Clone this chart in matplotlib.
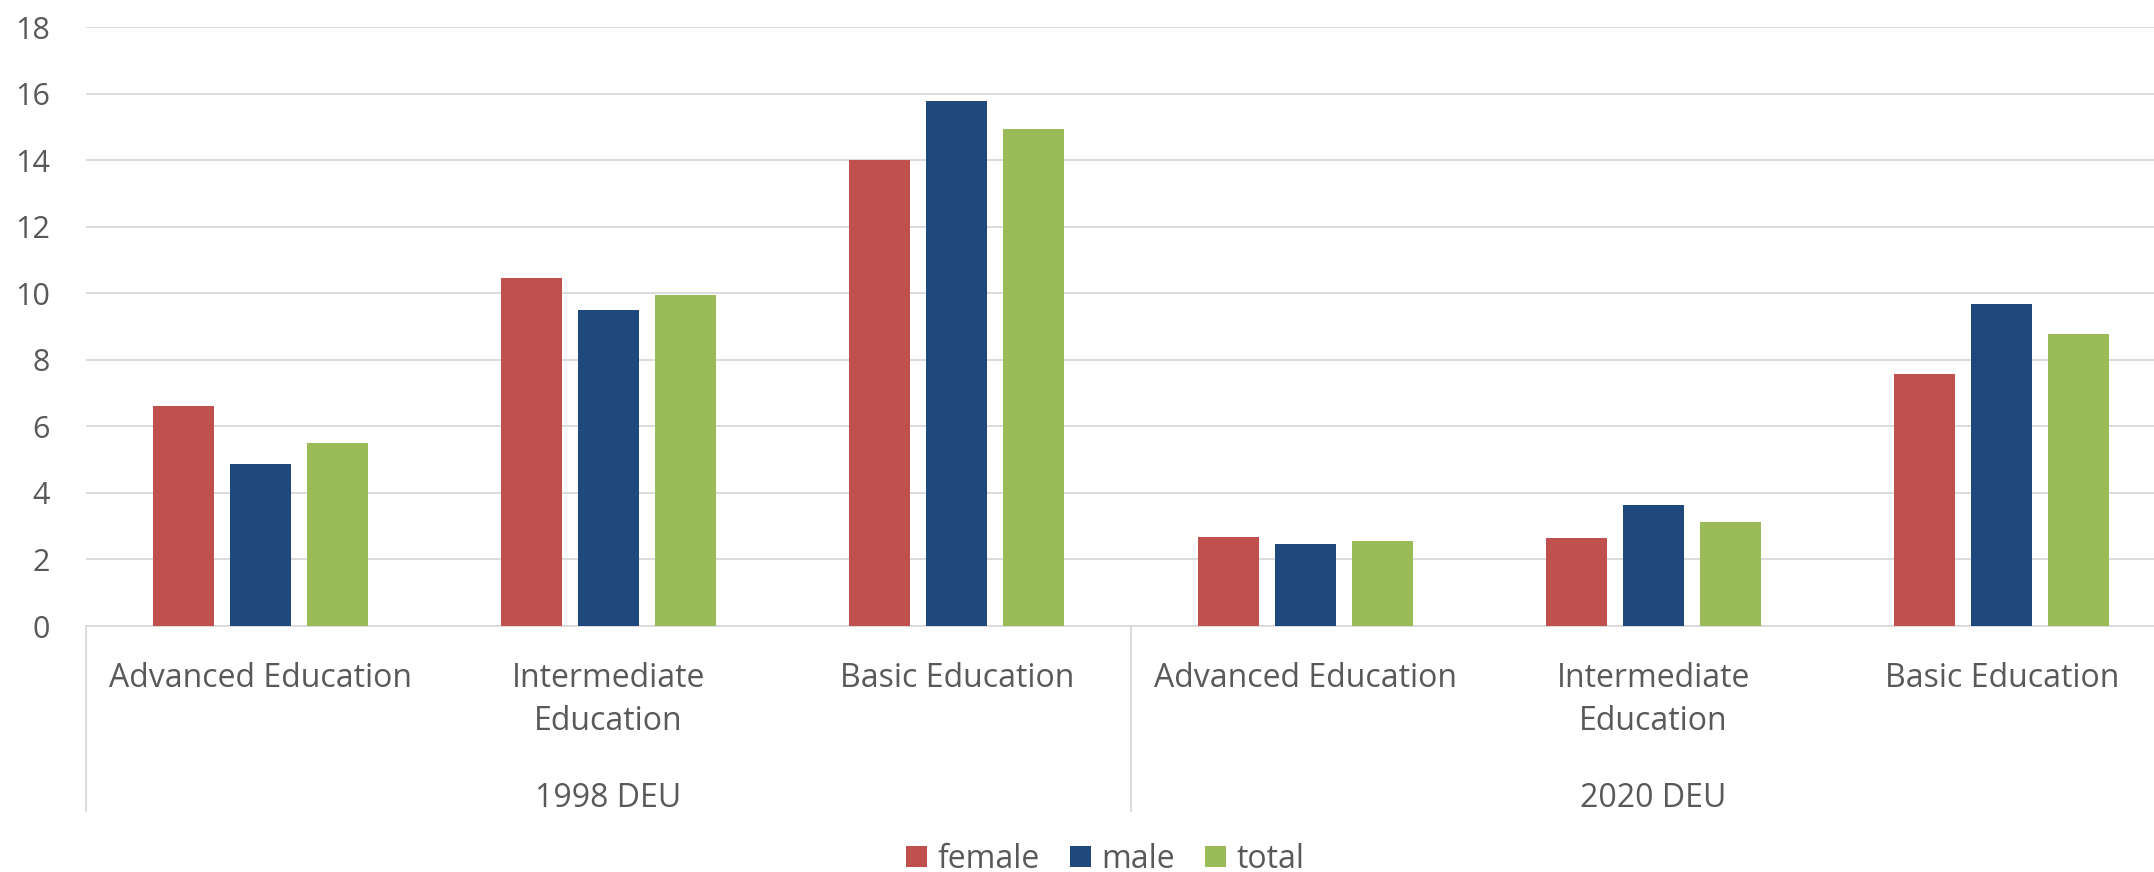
import matplotlib
matplotlib.use("Agg")
import matplotlib.pyplot as plt
import matplotlib.transforms as mtransforms
from matplotlib.patches import Patch
import numpy as np

# ---- data -------------------------------------------------------------
categories = ["Advanced Education", "Intermediate\nEducation", "Basic Education",
              "Advanced Education", "Intermediate\nEducation", "Basic Education"]
groups = ["1998 DEU", "2020 DEU"]
series_names = ["female", "male", "total"]
female = [6.62, 10.47, 14.01, 2.68, 2.65, 7.57]
male = [4.87, 9.49, 15.79, 2.46, 3.64, 9.68]
total = [5.49, 9.95, 14.94, 2.56, 3.12, 8.78]
yticks = [0, 2, 4, 6, 8, 10, 12, 14, 16, 18]

# ---- style ------------------------------------------------------------
colors = ["#C0504D", "#1F497D", "#9BBB59"]
text_color = "#595959"
grid_color = "#D9D9D9"
plt.rcParams["font.family"] = ["Open Sans", "DejaVu Sans"]

W, H, DPI = 2154, 872, 100
fig = plt.figure(figsize=(W / DPI, H / DPI), dpi=DPI)
fig.patch.set_facecolor("white")

# plot area in pixel terms (right edge runs past the canvas)
left_px, right_px, top_px, bottom_px = 86, 2176, 27.3, 626
ax = fig.add_axes([left_px / W, 1 - bottom_px / H,
                   (right_px - left_px) / W, (bottom_px - top_px) / H])

x = np.arange(len(categories))
bar_w = 0.175
step = 0.221
for i, (vals, c) in enumerate(zip([female, male, total], colors)):
    ax.bar(x + (i - 1) * step, vals, width=bar_w, color=c, zorder=3,
           label=series_names[i])

ax.set_xlim(-0.5, len(categories) - 0.5)
ax.set_ylim(0, 18)
ax.set_yticks(yticks)
ax.set_yticklabels([str(t) for t in yticks])
ax.tick_params(axis="y", length=0, pad=26, labelsize=22, labelcolor=text_color)
ax.tick_params(axis="x", length=0, labelbottom=False)
ax.grid(axis="y", color=grid_color, linewidth=1.3, zorder=0)
ax.set_axisbelow(True)
for s in ["left", "right", "top"]:
    ax.spines[s].set_visible(False)
ax.spines["bottom"].set_color(grid_color)
ax.spines["bottom"].set_linewidth(1.3)

# ---- multi-level category axis ----------------------------------------
def fig_y(px):
    return 1 - px / H

trans = mtransforms.blended_transform_factory(ax.transData, fig.transFigure)
line1_base, line2_base, group_base = 686.5, 730, 806.5
for xi, lab in zip(x, categories):
    for k, part in enumerate(lab.split("\n")):
        base = line1_base if k == 0 else line2_base
        ax.text(xi, fig_y(base), part, transform=trans, ha="center",
                va="baseline", fontsize=23, color=text_color)

n_per_group = len(categories) // len(groups)
for g, name in enumerate(groups):
    center = g * n_per_group + (n_per_group - 1) / 2
    ax.text(center, fig_y(group_base), name, transform=trans, ha="center",
            va="baseline", fontsize=23, color=text_color)

# separators between groups, hanging below the axis
sep_trans = mtransforms.blended_transform_factory(ax.transData, ax.transAxes)
sep_bottom = -(811 - bottom_px) / (bottom_px - top_px)
for g in range(len(groups) + 1):
    xs = g * n_per_group - 0.5
    ax.plot([xs, xs], [0, sep_bottom], transform=sep_trans, color=grid_color,
            linewidth=1.3, clip_on=False)

# ---- legend -----------------------------------------------------------
handles = [Patch(facecolor=c, edgecolor="none") for c in colors]
leg = fig.legend(handles, series_names, loc="center",
                 bbox_to_anchor=(1105 / W, fig_y(859)), ncol=3, frameon=False,
                 fontsize=23, handlelength=0.66, handleheight=0.66,
                 handletextpad=0.32, columnspacing=0.95, borderpad=0,
                 borderaxespad=0)
for t in leg.get_texts():
    t.set_color(text_color)

fig.savefig("out.png", dpi=DPI, facecolor="white")
